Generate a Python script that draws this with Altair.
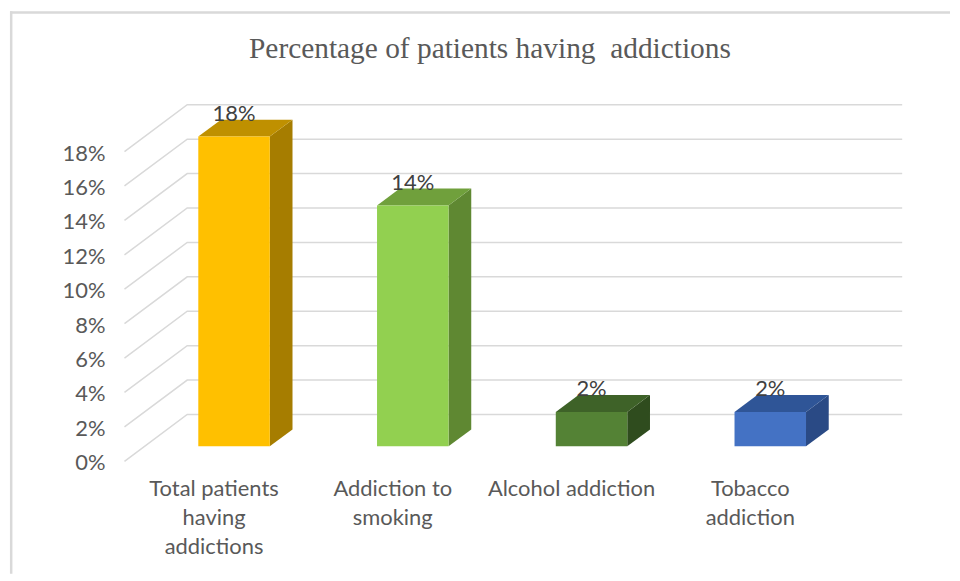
import altair as alt
import pandas as pd

# ---- data ----
categories = ["Total patients\nhaving\naddictions", "Addiction to\nsmoking", "Alcohol addiction", "Tobacco\naddiction"]
values = [18, 14, 2, 2]
tick_values = [0, 2, 4, 6, 8, 10, 12, 14, 16, 18]
tick_labels = ["0%", "2%", "4%", "6%", "8%", "10%", "12%", "14%", "16%", "18%"]
front_colors = ["#FFC000", "#92D050", "#548235", "#4472C4"]
top_colors = ["#BF9000", "#70A03C", "#3E6228", "#2F5597"]
side_colors = ["#A67D00", "#5F8832", "#2F4C1E", "#2A4A85"]
title_text = "Percentage of patients having\u00a0 addictions"

# ---- geometry (pixel scale of the pseudo-3D view) ----
W, H = 944, 565
PX_X = 179.5          # px per category step
X0 = 225.0            # px of category 0 centre
PX_Y = 17.28          # px per 1 percent
Y0 = 437.0            # px of 0 percent (bar front plane)
DEPTH_X, DEPTH_Y = 63.0, 47.0   # full depth of the floor in px
S_FRONT, S_BACK, S_BAR = -0.319, 0.681, 0.362
HALF = 0.2
XL, XR = -0.501, 3.499


def sx(s):
    return DEPTH_X * s / PX_X


def sy(s):
    return DEPTH_Y * s / PX_Y


xdom = [-X0 / PX_X, (W - X0) / PX_X]
ydom = [-(H - Y0) / PX_Y, Y0 / PX_Y]
xs = alt.Scale(domain=xdom, nice=False, zero=False)
ys = alt.Scale(domain=ydom, nice=False, zero=False)
X = lambda f: alt.X(f, type="quantitative", scale=xs, axis=None)
Y = lambda f: alt.Y(f, type="quantitative", scale=ys, axis=None)

# grid lines
grid_rows = []
for t in tick_values:
    grid_rows.append(dict(t=t, o=0, x=XL + sx(S_FRONT), y=t + sy(S_FRONT)))
    grid_rows.append(dict(t=t, o=1, x=XL + sx(S_BACK), y=t + sy(S_BACK)))
    grid_rows.append(dict(t=t, o=2, x=XR + sx(S_BACK), y=t + sy(S_BACK)))
grid_df = pd.DataFrame(grid_rows)

tick_df = pd.DataFrame(dict(
    label=tick_labels,
    x=[XL + sx(S_FRONT) - 19 / PX_X] * len(tick_values),
    y=[t + sy(S_FRONT) - 2 / PX_Y for t in tick_values],
))

bars = pd.DataFrame(dict(
    cat=categories, v=values, i=list(range(len(values))),
    front=front_colors, top=top_colors, side=side_colors,
))
bars["x1"] = bars["i"] - HALF
bars["x2"] = bars["i"] + HALF
bars["zero"] = 0.0
bars["ly"] = bars["v"] + sy(S_BAR)
bars["cx"] = bars["i"] + sx(S_FRONT)
bars["cy"] = sy(S_FRONT) - 18 / PX_Y

side_rows, top_rows = [], []
for i, (c, v, sc, tc) in enumerate(zip(categories, values, side_colors, top_colors)):
    side_rows.append(dict(cat=c, col=sc, x=i + HALF, y=0.0, y2=v))
    side_rows.append(dict(cat=c, col=sc, x=i + HALF + sx(S_BAR), y=sy(S_BAR), y2=v + sy(S_BAR)))
    top_rows.append(dict(cat=c, col=tc, y=v, x=i - HALF, x2=i + HALF))
    top_rows.append(dict(cat=c, col=tc, y=v + sy(S_BAR), x=i - HALF + sx(S_BAR), x2=i + HALF + sx(S_BAR)))
side_df = pd.DataFrame(side_rows)
top_df = pd.DataFrame(top_rows)

grid = alt.Chart(grid_df).mark_line(color="#D9D9D9", strokeWidth=1.5).encode(
    x=X("x"), y=Y("y"), detail="t:N", order="o:Q")

ticks = alt.Chart(tick_df).mark_text(
    align="right", baseline="middle", font="Lato", fontSize=22, color="#595959"
).encode(x=X("x"), y=Y("y"), text="label:N")

front = alt.Chart(bars).mark_rect().encode(
    x=X("x1"), x2="x2", y=Y("zero"), y2="v", color=alt.Color("front:N", scale=None))

side = alt.Chart(side_df).mark_area(orient="vertical").encode(
    x=X("x"), y=Y("y"), y2="y2", detail="cat:N", color=alt.Color("col:N", scale=None))

top = alt.Chart(top_df).mark_area(orient="horizontal").encode(
    y=Y("y"), x=X("x"), x2="x2", detail="cat:N", color=alt.Color("col:N", scale=None))

data_labels = alt.Chart(bars).transform_calculate(lab="datum.v + '%'").mark_text(
    align="center", baseline="alphabetic", font="Lato", fontSize=22, color="#404040", dy=1
).encode(x=X("i"), y=Y("ly"), text="lab:N")

cat_labels = alt.Chart(bars).mark_text(
    align="center", baseline="top", font="Lato", fontSize=22, color="#595959", lineBreak="\n", lineHeight=29
).encode(x=X("cx"), y=Y("cy"), text="cat:N")

title = alt.Chart(pd.DataFrame(dict(t=[title_text]))).mark_text(
    align="center", baseline="alphabetic", font="Liberation Serif", fontSize=29.5, color="#595959"
).encode(x=alt.value(482), y=alt.value(47), text="t:N")

border_top = alt.Chart(pd.DataFrame(dict(a=[0]))).mark_rule(color="#D9D9D9", strokeWidth=2.5).encode(
    x=alt.value(0), x2=alt.value(W), y=alt.value(1.2))
border_left = alt.Chart(pd.DataFrame(dict(a=[0]))).mark_rule(color="#D9D9D9", strokeWidth=2.5).encode(
    x=alt.value(1.2), y=alt.value(0), y2=alt.value(H))

chart = alt.layer(
    border_top, border_left, grid, ticks, side, top, front, data_labels, cat_labels, title
).properties(width=W, height=H, padding=0).configure_view(stroke=None)

chart.save("out.html", embed_options={"renderer": "svg", "actions": False})
